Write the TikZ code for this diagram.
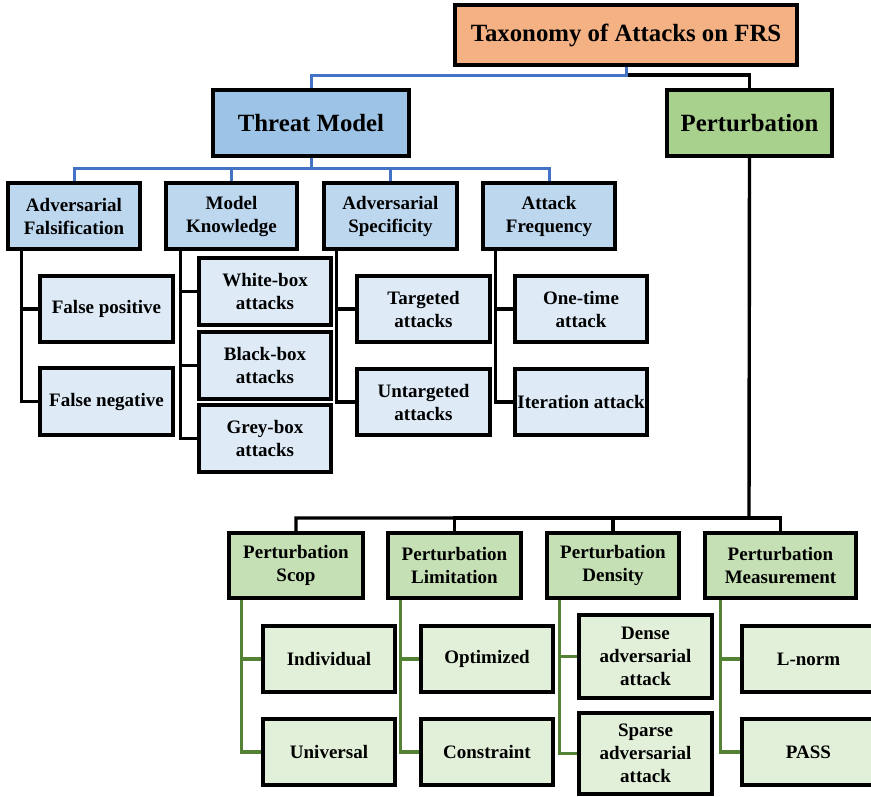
\documentclass[tikz,border=0pt]{standalone}
\usepackage{fontspec}
\setmainfont{Liberation Serif}
\definecolor{cRoot}{HTML}{F4B183}
\definecolor{cTM}{HTML}{9DC3E6}
\definecolor{cBlueL2}{HTML}{BDD7EE}
\definecolor{cBlueL3}{HTML}{DEEBF7}
\definecolor{cPT}{HTML}{A9D18E}
\definecolor{cGreenL2}{HTML}{C5E0B4}
\definecolor{cGreenL3}{HTML}{E2F0D9}
\definecolor{cBlueLine}{HTML}{4472C4}
\definecolor{cGreenLine}{HTML}{548235}
\tikzset{
  box/.style={draw=black, line width=3.6pt, align=center, inner sep=0pt, font=\bfseries\fontsize{19}{23}\selectfont},
  bigbox/.style={box, font=\bfseries\fontsize{24.8}{28}\selectfont},
  rootbox/.style={bigbox, fill=cRoot},
  tmbox/.style={bigbox, fill=cTM},
  ptbox/.style={bigbox, fill=cPT},
  bluetwo/.style={box, fill=cBlueL2},
  bluethree/.style={box, fill=cBlueL3},
  greentwo/.style={box, fill=cGreenL2},
  greenthree/.style={box, fill=cGreenL3},
  bline/.style={draw=cBlueLine, line width=3pt},
  kline/.style={draw=black, line width=3.4pt},
  gline/.style={draw=cGreenLine, line width=3.4pt},
}
\newcommand\bx[7]{\node[#6, minimum width={(#4-#2)*1pt}, minimum height={(#5-#3)*1pt}] (#1) at ({(#2+#4)/2},{(#3+#5)/2}) {#7};}
\begin{document}
\begin{tikzpicture}[x=1pt,y=-1pt]
\useasboundingbox (0,0) rectangle (871,796);
\clip (0,0) rectangle (871,796);
% nodes
\bx{root}{455}{5}{797}{65}{rootbox}{Taxonomy of Attacks on FRS}
\bx{tm}{213}{90}{409}{156}{tmbox}{Threat Model}
\bx{pt}{667}{90}{832}{156}{ptbox}{Perturbation}
\bx{af}{8}{183}{140}{249}{bluetwo}{Adversarial\\Falsification}
\bx{mk}{166}{183}{297}{249}{bluetwo}{Model\\Knowledge}
\bx{as}{324}{183}{457}{249}{bluetwo}{Adversarial\\Specificity}
\bx{afq}{483}{183}{615}{249}{bluetwo}{Attack\\Frequency}
\bx{fp}{40}{276}{173}{342}{bluethree}{False positive}
\bx{fn}{40}{368}{173}{435}{bluethree}{False negative}
\bx{wb}{199}{258}{331}{325}{bluethree}{White-box\\attacks}
\bx{bb}{199}{332}{331}{399}{bluethree}{Black-box\\attacks}
\bx{gb}{199}{405}{331}{472}{bluethree}{Grey-box\\attacks}
\bx{tg}{357}{276}{490}{342}{bluethree}{Targeted\\attacks}
\bx{ut}{357}{369}{490}{435}{bluethree}{Untargeted\\attacks}
\bx{ot}{515}{276}{647}{342}{bluethree}{One-time\\attack}
\bx{it}{515}{369}{647}{435}{bluethree}{Iteration attack}
\bx{sc}{229}{533}{363}{598}{greentwo}{Perturbation\\Scop}
\bx{li}{388}{533}{521}{598}{greentwo}{Perturbation\\Limitation}
\bx{de}{547}{533}{679}{598}{greentwo}{Perturbation\\Density}
\bx{me}{705}{533}{856}{598}{greentwo}{Perturbation\\Measurement}
\bx{ind}{263}{626}{395}{692}{greenthree}{Individual}
\bx{uni}{263}{719}{395}{785}{greenthree}{Universal}
\bx{opt}{421}{626}{553}{692}{greenthree}{Optimized}
\bx{con}{421}{719}{553}{785}{greenthree}{Constraint}
\bx{den}{579}{615}{712}{698}{greenthree}{Dense\\adversarial\\attack}
\bx{spa}{579}{713}{712}{794}{greenthree}{Sparse\\adversarial\\attack}
\bx{ln}{742}{626}{875}{692}{greenthree}{L-norm}
\bx{pass}{742}{719}{875}{785}{greenthree}{PASS}
% junction coordinates
\coordinate (j0) at (626,75);
\coordinate (j1) at (311,168);
\coordinate (j2) at (749,518);
% root connectors
\draw[kline] (j0) -| (pt.north);
\draw[bline] (root.south) -- (j0) -| (tm.north);
% threat model connectors
\draw[bline] (tm.south) -- (j1) -| (af.north);
\draw[bline] (j1) -| (mk.north);
\draw[bline] (j1) -| (as.north);
\draw[bline] (j1) -| (afq.north);
% perturbation connectors
\draw[kline] (pt.south) -- (j2) -| (sc.north);
\draw[kline] (j2) -| (li.north);
\draw[kline] (j2) -| (de.north);
\draw[kline] (j2) -| (me.north);
% brackets (threat model side, black)
\draw[kline] ([xshift=15pt]af.south west) |- (fp.west);
\draw[kline] ([xshift=15pt]af.south west) |- (fn.west);
\draw[kline] ([xshift=16pt]mk.south west) |- (wb.west);
\draw[kline] ([xshift=16pt]mk.south west) |- (bb.west);
\draw[kline] ([xshift=16pt]mk.south west) |- (gb.west);
\draw[kline] ([xshift=14pt]as.south west) |- (tg.west);
\draw[kline] ([xshift=14pt]as.south west) |- (ut.west);
\draw[kline] ([xshift=14pt]afq.south west) |- (ot.west);
\draw[kline] ([xshift=14pt]afq.south west) |- (it.west);
% brackets (perturbation side, green)
\draw[gline] ([xshift=14pt]sc.south west) |- (ind.west);
\draw[gline] ([xshift=14pt]sc.south west) |- (uni.west);
\draw[gline] ([xshift=14pt]li.south west) |- (opt.west);
\draw[gline] ([xshift=14pt]li.south west) |- (con.west);
\draw[gline] ([xshift=14pt]de.south west) |- (den.west);
\draw[gline] ([xshift=14pt]de.south west) |- (spa.west);
\draw[gline] ([xshift=17pt]me.south west) |- (ln.west);
\draw[gline] ([xshift=17pt]me.south west) |- (pass.west);
\end{tikzpicture}
\end{document}
